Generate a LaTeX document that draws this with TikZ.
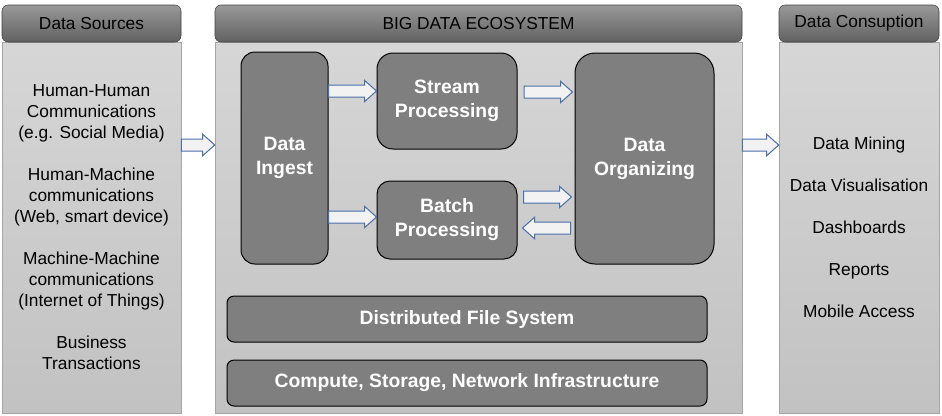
\documentclass[tikz,border=0pt]{standalone}
\usepackage{fontspec}
\setmainfont{Liberation Sans}
\usetikzlibrary{calc}
\definecolor{arrowline}{HTML}{4A6EA9}
\definecolor{arrowfill}{HTML}{F2F2F2}
\definecolor{boxgray}{HTML}{7F7F7F}
\definecolor{panelline}{HTML}{A6A6A6}
\begin{document}
\begin{tikzpicture}[x=0.75pt, y=-0.75pt,
  headbox/.style={draw=black!75, rounded corners=4.5pt, top color=black!40, bottom color=black!62, minimum height=27.75pt, font=\fontsize{13}{15.75}\selectfont},
  panelbox/.style={draw=panelline, top color=black!16, bottom color=black!24, minimum height=278.25pt, align=center, font=\fontsize{13}{15.75}\selectfont},
  procbox/.style={draw, line width=0.75pt, fill=boxgray, text=white, align=center, font=\fontsize{14.5}{18}\selectfont\bfseries},
  fat arrow/.style={draw=arrowline, fill=arrowfill, line width=0.75pt, to path={
    let \p1=(\tikztostart), \p2=(\tikztotarget), \n1={ifthenelse(\x2>\x1,9,-9)} in
    (\x1,\y1+4.5pt) -- (\x2-\n1*1pt,\y1+4.5pt) -- (\x2-\n1*1pt,\y1+8pt) -- (\x2,\y1)
    -- (\x2-\n1*1pt,\y1-8pt) -- (\x2-\n1*1pt,\y1-4.5pt) -- (\x1,\y1-4.5pt) -- cycle}}
]
\useasboundingbox (0,0) rectangle (942,415);
\node[panelbox, minimum width=134.25pt] (srcpanel) at (91.5,227.5) {Human-Human\\Communications\\(e.g. Social Media)\\[15.75pt]Human-Machine\\communications\\(Web, smart device)\\[15.75pt]Machine-Machine\\communications\\(Internet of Things)\\[15.75pt]Business\\Transactions};
\node[panelbox, minimum width=395.25pt] (ecopanel) at (478.5,227.5) {};
\node[panelbox, minimum width=120pt] (conpanel) at (859,227.5) {Data Mining\\[15.75pt]Data Visualisation\\[15.75pt]Dashboards\\[15.75pt]Reports\\[15.75pt]Mobile Access};
\node[headbox, minimum width=134.25pt] (srchead) at (91.5,23.5) {Data Sources};
\node[headbox, minimum width=395.25pt] (ecohead) at (478.5,23.5) {BIG DATA ECOSYSTEM};
\node[headbox, minimum width=120pt] (conhead) at (859,23.5) {Data Consuption};
\node[procbox, rounded corners=10.5pt, minimum width=65.25pt, minimum height=159pt] (ingest) at (284.5,158) {Data\\Ingest};
\node[procbox, rounded corners=12pt, minimum width=105pt, minimum height=72pt] (stream) at (447,101) {Stream\\Processing};
\node[procbox, rounded corners=9.75pt, minimum width=105pt, minimum height=58.5pt] (batch) at (447,220) {Batch\\Processing};
\node[procbox, rounded corners=15pt, minimum width=104.25pt, minimum height=158.25pt] (organize) at (644.5,158.5) {Data\\Organizing};
\node[procbox, rounded corners=5.25pt, minimum width=360pt, minimum height=34.5pt] (dfs) at (467,319) {Distributed File System};
\node[procbox, rounded corners=5.25pt, minimum width=360pt, minimum height=34.5pt] (infra) at (467,383) {Compute, Storage, Network Infrastructure};
\draw[fat arrow] (srcpanel.east |- 0,145) to (ecopanel.west |- 0,145);
\draw[fat arrow] (ecopanel.east |- 0,145) to (conpanel.west |- 0,145);
\draw[fat arrow] (ingest.east |- 0,91) to (stream.west |- 0,91);
\draw[fat arrow] (ingest.east |- 0,217) to (batch.west |- 0,217);
\draw[fat arrow] ($(stream.east |- 0,92)+(5pt,0)$) to ($(organize.west |- 0,92)+(-1.5pt,0)$);
\draw[fat arrow] ($(batch.east |- 0,197)+(4.5pt,0)$) to ($(organize.west |- 0,197)+(-2.25pt,0)$);
\draw[fat arrow] ($(organize.west |- 0,228)+(-3pt,0)$) to ($(batch.east |- 0,228)+(3.75pt,0)$);
\end{tikzpicture}
\end{document}
